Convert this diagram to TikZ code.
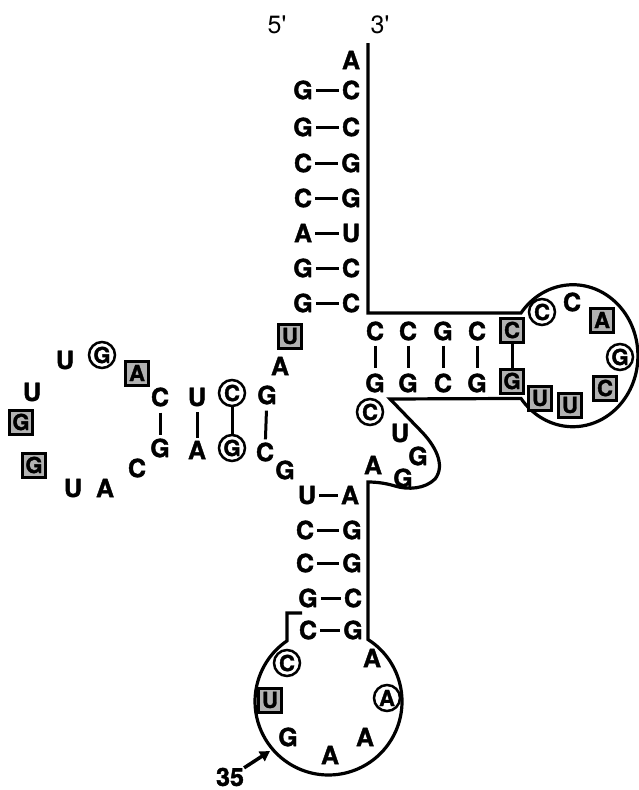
\documentclass[tikz,border=0pt]{standalone}
\usepackage{fontspec}
\setmainfont{TeX Gyre Heros}
\newfontfamily\heavy{texgyreheros-bold}[Extension=.otf, FakeBold=1.5]
\usetikzlibrary{arrows.meta}
\begin{document}
\begin{tikzpicture}[x=1pt,y=-1pt,
  nt/.style={font=\heavy\fontsize{25}{25}\selectfont, inner sep=0pt},
  bx/.style={draw, line width=3pt, fill=gray!60, minimum width=23pt, minimum height=24pt, inner sep=0pt, font=\heavy\fontsize{22}{22}\selectfont},
  ci/.style={draw, circle, line width=2.5pt, minimum size=26pt, inner sep=0pt, font=\heavy\fontsize{22}{22}\selectfont},
  hb/.style={line width=3pt, shorten <=3pt, shorten >=3pt},
  vb/.style={line width=3pt, shorten <=6pt, shorten >=3pt},
  vb0/.style={line width=3pt},
  bb/.style={line width=3.2pt, line join=miter},
  lab/.style={font=\fontsize{25}{25}\selectfont, inner sep=0pt},
  arr/.style={line width=3.5pt, -{Triangle[length=10pt,width=11pt]}}
]
\useasboundingbox (0,0) rectangle (639,790);
% backbone outline
\draw[bb] (368,43) -- (368,313) -- (521,313)
  arc[start angle=143, end angle=-143, x radius=65pt, y radius=71pt]
  -- (390,399) -- (420,430) .. controls (435,445) and (446,465) .. (435,479)
  .. controls (425,489) and (408,490) .. (395,486)
  .. controls (385,483) and (376,482) .. (368,482) -- (368,639.5)
  arc[start angle=57.5, end angle=-235.6, radius=73.5pt] -- (287,613) -- (302,613);
% ends
\node[lab] (l5) at (277,25) {5\textquotesingle};
\node[lab] (l3) at (380,25) {3\textquotesingle};
% acceptor stem
\node[nt] (a73) at (351,60) {A};
\node[nt] (p1) at (303,90) {G};  \node[nt] (q1) at (351,90) {C};
\node[nt] (p2) at (303,127) {G}; \node[nt] (q2) at (351,127) {C};
\node[nt] (p3) at (303,163) {C}; \node[nt] (q3) at (351,163) {G};
\node[nt] (p4) at (303,198) {C}; \node[nt] (q4) at (351,198) {G};
\node[nt] (p5) at (303,233) {A}; \node[nt] (q5) at (351,233) {U};
\node[nt] (p6) at (303,268) {G}; \node[nt] (q6) at (351,268) {C};
\node[nt] (p7) at (303,303) {G}; \node[nt] (q7) at (351,303) {C};
\foreach \i in {1,...,7} \draw[hb] (p\i) -- (q\i);
% junction
\node[bx] (u8) at (290,336) {U};
\node[nt] (a9) at (280,366) {A};
% D arm
\node[nt] (d1t) at (267,395) {G}; \node[nt] (d1b) at (265,452) {C};
\node[ci] (d2t) at (232,393) {C}; \node[ci] (d2b) at (232,448) {G};
\node[nt] (d3t) at (197,397) {U}; \node[nt] (d3b) at (197,450) {A};
\node[nt] (d4t) at (160,397) {C}; \node[nt] (d4b) at (160,448) {G};
\draw[vb] (d1t) -- (d1b);
\draw[vb0] (d2t) -- (d2b);
\draw[vb] (d3t) -- (d3b);
\draw[vb] (d4t) -- (d4b);
\node[bx] (dl1) at (137,373) {A};
\node[ci] (dl2) at (102,355) {G};
\node[nt] (dl3) at (65,360) {U};
\node[nt] (dl4) at (32,392) {U};
\node[bx] (dl5) at (21,422) {G};
\node[bx] (dl6) at (34,465) {G};
\node[nt] (dl7) at (73,488) {U};
\node[nt] (dl8) at (105,488) {A};
\node[nt] (dl9) at (137,468) {C};
\node[nt] (g26) at (285,470) {G};
% anticodon stem
\node[nt] (r1) at (307,495) {U}; \node[nt] (s1) at (350,495) {A};
\node[nt] (r2) at (305,530) {C}; \node[nt] (s2) at (352,530) {G};
\node[nt] (r3) at (305,563) {C}; \node[nt] (s3) at (352,563) {G};
\node[nt] (r4) at (308,598) {G}; \node[nt] (s4) at (353,598) {C};
\node[nt] (r5) at (308,630) {C}; \node[nt] (s5) at (353,630) {G};
\foreach \i in {1,...,5} \draw[hb] (r\i) -- (s\i);
% anticodon loop
\node[ci] (al1) at (287,663) {C};
\node[bx] (al2) at (270,700) {U};
\node[nt] (al3) at (288,737) {G};
\node[nt] (al4) at (330,755) {A};
\node[nt] (al5) at (365,737) {A};
\node[ci] (al6) at (387,698) {A};
\node[nt] (al7) at (372,658) {A};
\node[nt] (n35) at (230,777) {35};
\coordinate (t35) at (270,751);
\draw[arr] (n35) -- (t35);
% variable loop
\node[nt] (v1) at (373,465) {A};
\node[nt] (v2) at (403,478) {G};
\node[nt] (v3) at (418,456) {G};
\node[nt] (v4) at (400,433) {U};
\node[ci] (v5) at (370,412) {C};
% T arm
\node[nt] (tb1) at (375,383) {G}; \node[nt] (tt1) at (375,331) {C};
\node[nt] (tb2) at (408,383) {G}; \node[nt] (tt2) at (408,331) {C};
\node[nt] (tb3) at (443,383) {C}; \node[nt] (tt3) at (443,331) {G};
\node[nt] (tb4) at (477,383) {G}; \node[nt] (tt4) at (477,331) {C};
\node[bx] (tb5) at (512,381) {G}; \node[bx] (tt5) at (512,330) {C};
\foreach \i in {1,...,4} \draw[line width=3pt, shorten <=5pt, shorten >=5pt] (tt\i) -- (tb\i);
\draw[vb0] (tt5) -- (tb5);
% T loop
\node[bx] (tl1) at (540,398) {U};
\node[bx] (tl2) at (570,405) {U};
\node[bx] (tl3) at (605,388) {C};
\node[ci] (tl4) at (620,357) {G};
\node[bx] (tl5) at (602,320) {A};
\node[nt] (tl6) at (572,302) {C};
\node[ci] (tl7) at (542,312) {C};
\end{tikzpicture}
\end{document}
